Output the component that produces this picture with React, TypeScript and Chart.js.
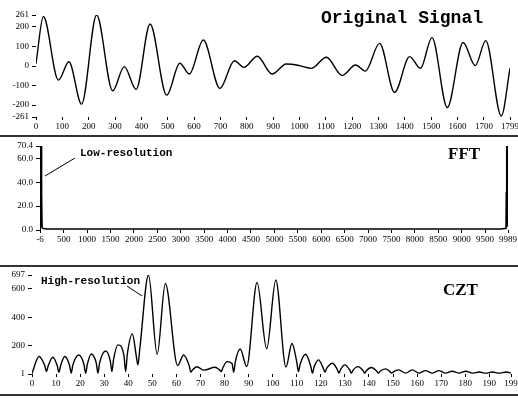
import React, { useEffect, useRef } from "react";
import { Chart, registerables } from "chart.js";

Chart.register(...registerables);

const W = 518;
const H = 399;

// ---- Original signal ----
const signalX = [0, 28, 85, 125, 173, 230, 291, 335, 380, 433, 496, 546, 582, 635, 698, 753, 789, 840, 896, 950, 1000, 1045, 1102, 1162, 1213, 1250, 1304, 1361, 1418, 1459, 1503, 1561, 1621, 1667, 1707, 1766, 1799];
const signalY = [12, 253, -72, 22, -195, 261, -127, -3, -120, 215, -149, 14, -41, 133, -115, 27, -7, 50, -41, 10, 2, -12, 45, -48, 5, -26, 116, -135, 48, -12, 145, -212, 120, 2, 130, -256, -12];
const signalXTicks = [0, 100, 200, 300, 400, 500, 600, 700, 800, 900, 1000, 1100, 1200, 1300, 1400, 1500, 1600, 1700, 1799];
const signalYTicks = [-261, -200, -100, 0, 100, 200, 261];

// ---- FFT ----
const fftX = [-6, 0, 3, 22, 26, 28, 34, 40, 60, 150, 9830, 9925, 9945, 9951, 9957, 9961, 9963, 9983, 9986, 9989];
const fftY = [0, 4, 70.4, 70.4, 4, 2, 32, 2, 1.2, 0.8, 0.8, 1.2, 2, 32, 2, 4, 70.4, 70.4, 4, 3];
const fftXTicks = [-6, 500, 1000, 1500, 2000, 2500, 3000, 3500, 4000, 4500, 5000, 5500, 6000, 6500, 7000, 7500, 8000, 8500, 9000, 9500, 9989];
const fftYTicks = [0, 20, 40, 60, 70.4];

// ---- CZT ----
const cztX = [0, 2.9, 5.3, 6, 6.7, 8.7, 10.5, 11.2, 11.9, 13.6, 15.6, 16.3, 17, 19.5, 21.6, 22.3, 23, 24.6, 26.7, 27.4, 28.1, 30.6, 32.5, 33.2, 33.9, 35.7, 38.2, 38.9, 39.6, 41.7, 43.3, 44, 44.8, 48.4, 52, 55.4, 60.5, 63, 65.3, 66, 66.7, 68.5, 71.5, 76, 77.9, 78.6, 79.3, 81, 83.1, 83.8, 84.5, 86.5, 89.2, 93.5, 97.5, 101.3, 105.5, 108, 110, 110.7, 111.4, 113.7, 115.8, 116.5, 117.2, 119, 121, 121.7, 122.4, 124.8, 126.8, 127.5, 128.2, 129.9, 132, 132.7, 133.4, 135.4, 137.5, 138.2, 138.9, 141, 143.2, 143.9, 144.6, 146.9, 148.7, 149.4, 150.1, 152.4, 155.2, 158, 160.7, 163.5, 166.3, 169, 171.8, 174.6, 177.4, 180.2, 183, 185.8, 188.6, 191.3, 194.1, 197, 199];
const cztY = [5, 124, 60, 18, 58, 119, 58, 14, 60, 124, 62, 7, 66, 135, 68, 7, 70, 142, 78, 7, 80, 163, 95, 18, 105, 206, 130, 18, 140, 283, 130, 65, 180, 697, 140, 638, 60, 135, 60, 14, 30, 52, 28, 48, 30, 18, 45, 88, 75, 14, 90, 177, 53, 645, 178, 662, 50, 215, 85, 18, 70, 140, 55, 7, 50, 100, 42, 14, 40, 77, 34, 7, 32, 65, 30, 7, 28, 53, 26, 7, 24, 47, 22, 7, 20, 37, 18, 7, 16, 30, 7, 30, 7, 25, 7, 25, 7, 20, 7, 20, 7, 15, 7, 15, 7, 15, 7];
const cztXTicks = [0, 10, 20, 30, 40, 50, 60, 70, 80, 90, 100, 110, 120, 130, 140, 150, 160, 170, 180, 190, 199];
const cztYTicks = [1, 200, 400, 600, 697];

const tickFont = { family: "'Liberation Serif', serif", size: 9 };

type TextItem = { text: string; x: number; y: number; font: string };
type LineItem = { x1: number; y1: number; x2: number; y2: number };

type Panel = {
  top: number;
  height: number;
  area: { left: number; right: number; top: number; bottom: number };
  xs: number[];
  ys: number[];
  xMin: number;
  xMax: number;
  yMin: number;
  yMax: number;
  xTicks: number[];
  yTicks: number[];
  yFmt: (v: number) => string;
  smooth: boolean;
  texts: TextItem[];
  lines: LineItem[];
};

const panels: Panel[] = [
  {
    top: 0,
    height: 135,
    area: { left: 36, right: 510, top: 15, bottom: 117 },
    xs: signalX,
    ys: signalY,
    xMin: 0,
    xMax: 1799,
    yMin: -261,
    yMax: 261,
    xTicks: signalXTicks,
    yTicks: signalYTicks,
    yFmt: (v) => String(v),
    smooth: true,
    texts: [{ text: "Original Signal", x: 321, y: 18, font: "bold 18px 'Liberation Mono', monospace" }],
    lines: [],
  },
  {
    top: 138,
    height: 127,
    area: { left: 40, right: 508, top: 146, bottom: 230 },
    xs: fftX,
    ys: fftY,
    xMin: -6,
    xMax: 9989,
    yMin: 0,
    yMax: 70.4,
    xTicks: fftXTicks,
    yTicks: fftYTicks,
    yFmt: (v) => v.toFixed(1),
    smooth: false,
    texts: [
      { text: "FFT", x: 448, y: 155, font: "bold 17px 'Liberation Serif', serif" },
      { text: "Low-resolution", x: 80, y: 153, font: "bold 11px 'Liberation Mono', monospace" },
    ],
    lines: [{ x1: 75, y1: 158, x2: 45, y2: 176 }],
  },
  {
    top: 267,
    height: 127,
    area: { left: 32, right: 511, top: 275, bottom: 374 },
    xs: cztX,
    ys: cztY,
    xMin: 0,
    xMax: 199,
    yMin: 1,
    yMax: 697,
    xTicks: cztXTicks,
    yTicks: cztYTicks,
    yFmt: (v) => String(v),
    smooth: true,
    texts: [
      { text: "CZT", x: 443, y: 291, font: "bold 17px 'Liberation Serif', serif" },
      { text: "High-resolution", x: 41, y: 281, font: "bold 11px 'Liberation Mono', monospace" },
    ],
    lines: [{ x1: 127, y1: 286, x2: 142, y2: 296 }],
  },
];

const textPlugin = {
  id: "panelText",
  afterDraw(chart: any, _args: any, opts: any) {
    const ctx = chart.ctx as CanvasRenderingContext2D;
    const off = opts.offset || 0;
    ctx.save();
    ctx.fillStyle = "#000";
    ctx.textAlign = "left";
    ctx.textBaseline = "middle";
    for (const t of (opts.texts || []) as TextItem[]) {
      ctx.font = t.font;
      ctx.fillText(t.text, t.x, t.y - off);
    }
    ctx.strokeStyle = "#000";
    ctx.lineWidth = 1;
    for (const l of (opts.lines || []) as LineItem[]) {
      ctx.beginPath();
      ctx.moveTo(l.x1, l.y1 - off);
      ctx.lineTo(l.x2, l.y2 - off);
      ctx.stroke();
    }
    ctx.restore();
  },
};

function PanelChart({ p }: { p: Panel }) {
  const ref = useRef<HTMLCanvasElement | null>(null);
  useEffect(() => {
    if (!ref.current) return;
    const a = p.area;
    const topPad = a.top - p.top;
    const bottomAxis = p.top + p.height - a.bottom;
    const chart = new Chart(ref.current, {
      type: "line",
      data: {
        datasets: [
          {
            data: p.xs.map((x, i) => ({ x, y: p.ys[i] })),
            borderColor: "#000",
            borderWidth: 1.4,
            pointRadius: 0,
            fill: false,
            tension: p.smooth ? 0.4 : 0,
            cubicInterpolationMode: p.smooth ? "monotone" : "default",
          } as any,
        ],
      },
      options: {
        responsive: false,
        animation: false,
        devicePixelRatio: 1,
        layout: { padding: { top: topPad, right: W - a.right, left: 0, bottom: 0 } },
        plugins: {
          legend: { display: false },
          tooltip: { enabled: false },
          panelText: { texts: p.texts, lines: p.lines, offset: p.top },
        } as any,
        scales: {
          x: {
            type: "linear",
            min: p.xMin,
            max: p.xMax,
            afterBuildTicks: (s: any) => {
              s.ticks = p.xTicks.map((v) => ({ value: v }));
            },
            afterFit: (s: any) => {
              s.height = bottomAxis;
              s.paddingLeft = 0;
              s.paddingRight = 0;
            },
            grid: { display: true, drawOnChartArea: false, drawTicks: true, tickLength: 3, color: "#000", lineWidth: 1 },
            border: { display: false },
            ticks: {
              color: "#000",
              font: tickFont,
              padding: 1,
              maxRotation: 0,
              minRotation: 0,
              autoSkip: false,
              callback: (v: any) => String(v),
            },
          },
          y: {
            type: "linear",
            min: p.yMin,
            max: p.yMax,
            afterBuildTicks: (s: any) => {
              s.ticks = p.yTicks.map((v) => ({ value: v }));
            },
            afterFit: (s: any) => {
              s.width = a.left;
              s.paddingTop = 0;
              s.paddingBottom = 0;
            },
            grid: { display: true, drawOnChartArea: false, drawTicks: true, tickLength: 4, color: "#000", lineWidth: 1 },
            border: { display: false },
            ticks: {
              color: "#000",
              font: tickFont,
              padding: 3,
              autoSkip: false,
              callback: (v: any) => p.yFmt(Number(v)),
            },
          },
        },
      },
      plugins: [textPlugin as any],
    });
    return () => chart.destroy();
  }, [p]);
  return (
    <canvas
      ref={ref}
      width={W}
      height={p.height}
      style={{ position: "absolute", left: 0, top: p.top, width: W, height: p.height }}
    />
  );
}

export default function App() {
  const seps = [135, 265, 394];
  return (
    <div style={{ position: "fixed", left: 0, top: 0, width: W, height: H, background: "#fff", overflow: "hidden" }}>
      {panels.map((p, i) => (
        <PanelChart key={i} p={p} />
      ))}
      {seps.map((y, i) => (
        <div key={"s" + i} style={{ position: "absolute", left: 0, top: y, width: W, height: 2, background: "#333" }} />
      ))}
    </div>
  );
}
